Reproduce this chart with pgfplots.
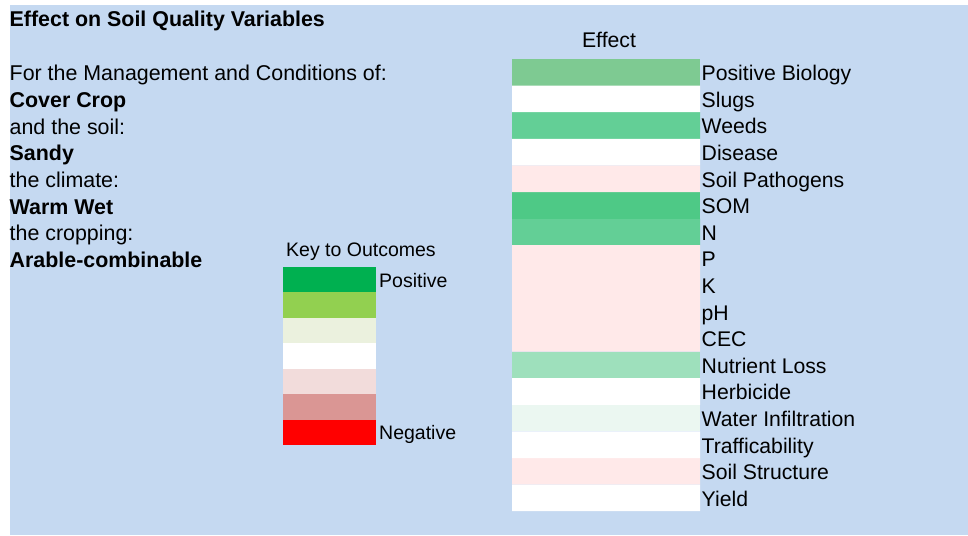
\documentclass[border=0pt]{standalone}
\usepackage{pgfplots}
\pgfplotsset{compat=1.18}
\usepackage{fontspec}
\setmainfont{Liberation Sans}
\definecolor{bg}{HTML}{C5D9F1}
\definecolor{cBio}{RGB}{126,202,146}
\definecolor{cGrn}{RGB}{99,207,150}
\definecolor{cSom}{RGB}{78,201,134}
\definecolor{cNl}{RGB}{158,224,188}
\definecolor{cWi}{RGB}{235,247,241}
\definecolor{cPink}{RGB}{255,233,233}
\definecolor{k1}{HTML}{00B050}
\definecolor{k2}{HTML}{92D050}
\definecolor{k3}{HTML}{EBF1DE}
\definecolor{k4}{HTML}{FFFFFF}
\definecolor{k5}{HTML}{F2DCDB}
\definecolor{k6}{HTML}{DA9694}
\definecolor{k7}{HTML}{FF0000}
\begin{document}
\begin{tikzpicture}[x=1pt,y=1pt]
\path (0,0) rectangle (968,-535);
\fill[bg] (10,-5) rectangle (968,-535);
\fontsize{21.4}{26.6}\selectfont
\begin{scope}[every node/.style={anchor=base west, inner sep=0pt}]
\node at (9.5,-27) {\bfseries Effect on Soil Quality Variables};
\node at (9.5,-81) {For the Management and Conditions of:};
\node at (9.5,-107.6) {\bfseries Cover Crop};
\node at (9.5,-134.2) {and the soil:};
\node at (9.5,-160.8) {\bfseries Sandy};
\node at (9.5,-187.4) {the climate:};
\node at (9.5,-214) {\bfseries Warm Wet};
\node at (9.5,-240.6) {the cropping:};
\node at (9.5,-267.2) {\bfseries Arable-combinable};
\end{scope}
\begin{axis}[at={(512pt,-59pt)}, anchor=north west,
  width=188pt, height=452.2pt, scale only axis,
  xmin=0, xmax=1, ymin=0.5, ymax=17.5, y dir=reverse,
  xbar, bar width=1, bar shift=0pt,
  axis line style={draw=none}, xtick=\empty,
  ytick={1,...,17},
  yticklabels={Positive Biology,Slugs,Weeds,Disease,Soil Pathogens,SOM,N,P,K,pH,CEC,Nutrient Loss,Herbicide,Water Infiltration,Trafficability,Soil Structure,Yield},
  yticklabel pos=right, major tick length=0pt, tick style={draw=none},
  yticklabel style={anchor=base west, inner sep=0pt, yshift=-8.4pt, xshift=1.5pt, font=\fontsize{21.2}{25}\selectfont},
  title=Effect,
  title style={at={(0.5,1)}, anchor=base, yshift=5.7pt, xshift=3pt, inner sep=0pt, font=\fontsize{21.2}{25}\selectfont},
  clip=false]
\addplot[fill=cBio, draw=none] coordinates {(1,1)};
\addplot[fill=cGrn, draw=none] coordinates {(1,3) (1,7)};
\addplot[fill=cSom, draw=none] coordinates {(1,6)};
\addplot[fill=cNl, draw=none] coordinates {(1,12)};
\addplot[fill=cWi, draw=none] coordinates {(1,14)};
\addplot[fill=cPink, draw=none] coordinates {(1,5) (1,8) (1,9) (1,10) (1,11) (1,16)};
\addplot[fill=white, draw=none] coordinates {(1,2) (1,4) (1,13) (1,15) (1,17)};
\end{axis}
\begin{axis}[at={(283pt,-267pt)}, anchor=north west,
  width=93pt, height=178pt, scale only axis,
  xmin=0, xmax=1, ymin=0.5, ymax=7.5, y dir=reverse,
  xbar, bar width=1, bar shift=0pt,
  axis line style={draw=none}, xtick=\empty,
  ytick={1,7}, yticklabels={Positive,Negative},
  yticklabel pos=right, major tick length=0pt, tick style={draw=none},
  yticklabel style={anchor=base west, inner sep=0pt, yshift=-7.5pt, xshift=3pt, font=\fontsize{19.5}{22}\selectfont},
  title={Key to Outcomes},
  title style={at={(0,1)}, anchor=base west, yshift=5pt, xshift=3pt, inner sep=0pt, font=\fontsize{19.5}{22}\selectfont},
  clip=false]
\addplot[fill=k1, draw=none] coordinates {(1,1)};
\addplot[fill=k2, draw=none] coordinates {(1,2)};
\addplot[fill=k3, draw=none] coordinates {(1,3)};
\addplot[fill=k4, draw=none] coordinates {(1,4)};
\addplot[fill=k5, draw=none] coordinates {(1,5)};
\addplot[fill=k6, draw=none] coordinates {(1,6)};
\addplot[fill=k7, draw=none] coordinates {(1,7)};
\end{axis}
\end{tikzpicture}
\end{document}
